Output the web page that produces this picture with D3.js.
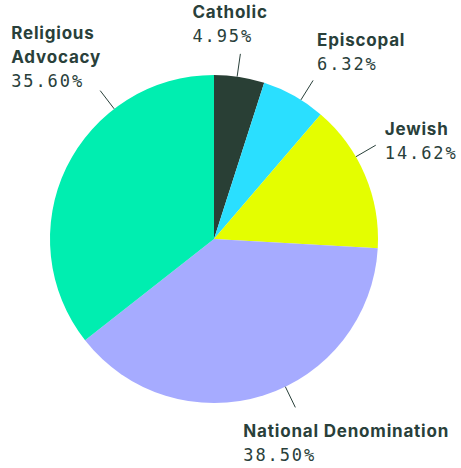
<!DOCTYPE html>
<html>
<head>
<meta charset="utf-8">
<script src="https://cdn.jsdelivr.net/npm/d3@7"></script>
<style>
  html, body { margin: 0; padding: 0; background: #fff; }
  svg { display: block; }
</style>
</head>
<body>
<svg width="461" height="468"></svg>
<script>
const categories = ["Catholic", "Episcopal", "Jewish", "National Denomination", "Religious Advocacy"];
const shares = [4.95, 6.32, 14.62, 38.5, 35.6];
const pctLabels = ["4.95%", "6.32%", "14.62%", "38.50%", "35.60%"];
const nameLines = [["Catholic"], ["Episcopal"], ["Jewish"], ["National Denomination"], ["Religious", "Advocacy"]];
const colors = ["#293f35", "#2adfff", "#e4fe00", "#a6abff", "#00eeb0"];

// label layout: leader angle nudge (deg) and text offset from leader end
const labelLayout = [
  { nudge: -0.8, dx: -48, dy: -36 },
  { nudge: 2.8, dx: 4, dy: -34 },
  { nudge: -7, dx: 9, dy: -10 },
  { nudge: -8.3, dx: -52, dy: 30 },
  { nudge: 26.6, dx: -89, dy: -52 },
];

const ink = "#29403a";
const cx = 214, cy = 239, radius = 164, leaderOuter = 187;

const svg = d3.select("svg");
const g = svg.append("g").attr("transform", `translate(${cx},${cy})`);

const pie = d3.pie().sort(null).value((d) => d.value);
const data = categories.map((name, i) => ({ name, value: shares[i], i }));
const arcs = pie(data);

const arc = d3.arc().innerRadius(0).outerRadius(radius);

// slices
g.append("g")
  .selectAll("path")
  .data(arcs)
  .enter()
  .append("path")
  .attr("d", arc)
  .attr("fill", (d) => colors[d.data.i]);

// leader lines
const toRad = Math.PI / 180;
const polar = (a, r) => [Math.sin(a) * r, -Math.cos(a) * r];

const labels = arcs.map((d) => {
  const lay = labelLayout[d.data.i];
  const a = (d.startAngle + d.endAngle) / 2 + lay.nudge * toRad;
  return { d, lay, p0: polar(a, radius), p1: polar(a, leaderOuter) };
});

g.append("g")
  .selectAll("line")
  .data(labels)
  .enter()
  .append("line")
  .attr("x1", (l) => l.p0[0])
  .attr("y1", (l) => l.p0[1])
  .attr("x2", (l) => l.p1[0])
  .attr("y2", (l) => l.p1[1])
  .attr("stroke", ink)
  .attr("stroke-width", 1);

// label text
const texts = g.append("g")
  .selectAll("text")
  .data(labels)
  .enter()
  .append("text")
  .attr("fill", ink)
  .attr("x", (l) => l.p1[0] + l.lay.dx)
  .attr("y", (l) => l.p1[1] + l.lay.dy);

texts.each(function (l) {
  const t = d3.select(this);
  const x = l.p1[0] + l.lay.dx;
  const lines = nameLines[l.d.data.i];
  lines.forEach((s, k) => {
    t.append("tspan")
      .attr("x", x)
      .attr("dy", k === 0 ? 0 : 24.5)
      .attr("font-family", "Inter, 'Liberation Sans', sans-serif")
      .attr("font-weight", 700)
      .attr("font-size", 17)
      .attr("letter-spacing", 0.8)
      .text(s);
  });
  t.append("tspan")
    .attr("x", x)
    .attr("dy", 24)
    .attr("font-family", "'DejaVu Sans Mono', monospace")
    .attr("font-size", 17)
    .attr("letter-spacing", 1.9)
    .text(pctLabels[l.d.data.i]);
});
</script>
</body>
</html>
